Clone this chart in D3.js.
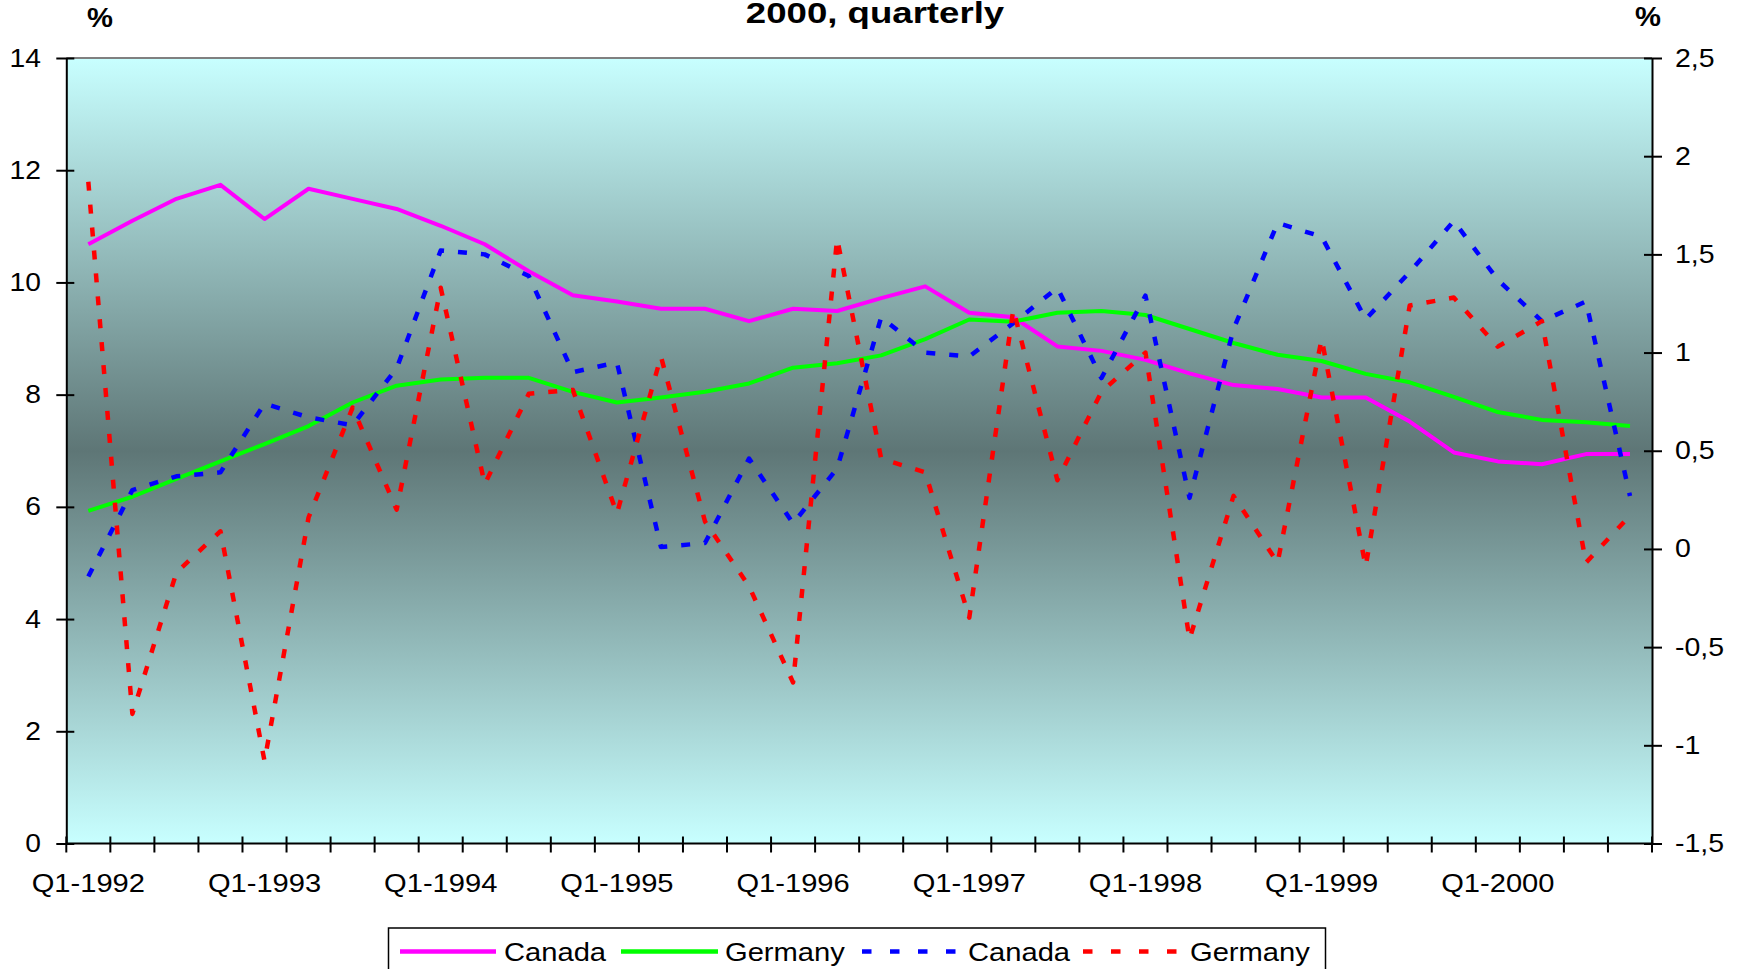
<!DOCTYPE html>
<html lang="en">
<head>
<meta charset="UTF-8">
<title>Canada and Germany, quarterly</title>
<script src="https://d3js.org/d3.v7.min.js"></script>
<style>
    body { margin: 0; background: #ffffff; }
    text { font-family: "Liberation Sans", Arial, sans-serif; fill: #000; }
</style>
</head>
<body>
<svg id="chart" width="1742" height="969"></svg>
<script>
// quarters Q1-1992 .. Q4-2000
const quarters = [
    "Q1-1992","Q2-1992","Q3-1992","Q4-1992","Q1-1993","Q2-1993","Q3-1993","Q4-1993",
    "Q1-1994","Q2-1994","Q3-1994","Q4-1994","Q1-1995","Q2-1995","Q3-1995","Q4-1995",
    "Q1-1996","Q2-1996","Q3-1996","Q4-1996","Q1-1997","Q2-1997","Q3-1997","Q4-1997",
    "Q1-1998","Q2-1998","Q3-1998","Q4-1998","Q1-1999","Q2-1999","Q3-1999","Q4-1999",
    "Q1-2000","Q2-2000","Q3-2000","Q4-2000"
];
const xLabels = ["Q1-1992","Q1-1993","Q1-1994","Q1-1995","Q1-1996","Q1-1997","Q1-1998","Q1-1999","Q1-2000"];

// left axis (%), solid lines
const canadaLeft = [10.68, 11.1, 11.49, 11.74, 11.13, 11.67, 11.49, 11.31, 11.01, 10.68, 10.2, 9.77,
    9.66, 9.53, 9.53, 9.31, 9.53, 9.49, 9.72, 9.93, 9.46, 9.38, 8.86, 8.78,
    8.62, 8.38, 8.17, 8.10, 7.95, 7.95, 7.52, 6.97, 6.81, 6.76, 6.94, 6.94];
const germanyLeft = [5.93, 6.18, 6.50, 6.81, 7.12, 7.44, 7.86, 8.16, 8.27, 8.30, 8.30, 8.05,
    7.86, 7.95, 8.05, 8.20, 8.48, 8.56, 8.70, 8.99, 9.34, 9.30, 9.46, 9.49,
    9.42, 9.17, 8.92, 8.71, 8.60, 8.37, 8.22, 7.96, 7.69, 7.55, 7.51, 7.44];

// right axis (%), dashed lines
const canadaRight = [-0.14, 0.30, 0.37, 0.39, 0.74, 0.67, 0.63, 0.92, 1.52, 1.50, 1.39, 0.90,
    0.95, 0.01, 0.03, 0.46, 0.13, 0.41, 1.18, 1.00, 0.98, 1.15, 1.33, 0.87,
    1.29, 0.26, 1.12, 1.66, 1.59, 1.17, 1.41, 1.67, 1.37, 1.16, 1.26, 0.27];
const germanyRight = [1.87, -0.84, -0.12, 0.09, -1.08, 0.16, 0.72, 0.20, 1.33, 0.33, 0.79, 0.81,
    0.18, 0.98, 0.14, -0.19, -0.68, 1.58, 0.46, 0.39, -0.35, 1.22, 0.35, 0.80,
    1.00, -0.46, 0.27, -0.07, 1.07, -0.09, 1.24, 1.28, 1.03, 1.16, -0.07, 0.17];

const leftTicks = [0, 2, 4, 6, 8, 10, 12, 14];
const rightTicks = [-1.5, -1, -0.5, 0, 0.5, 1, 1.5, 2, 2.5];

const series = [
    { name: "Canada",  values: canadaLeft,   axis: "left",  color: "#ff00ff", dash: null },
    { name: "Germany", values: germanyLeft,  axis: "left",  color: "#00ff00", dash: null },
    { name: "Canada",  values: canadaRight,  axis: "right", color: "#0000ff", dash: "9,14" },
    { name: "Germany", values: germanyRight, axis: "right", color: "#ff0000", dash: "9,14" }
];

const plotLeft = 66.3, plotRight = 1652, plotTop = 58, plotBottom = 843.5;
const svg = d3.select("#chart");

const x = d3.scaleBand().domain(quarters).range([plotLeft, plotRight]).padding(0);
const yL = d3.scaleLinear().domain([0, 14]).range([plotBottom, plotTop]);
const yR = d3.scaleLinear().domain([-1.5, 2.5]).range([plotBottom, plotTop]);
const cx = d => x(d) + x.bandwidth() / 2;

// background gradient of the plot area
const grad = svg.append("defs").append("linearGradient")
    .attr("id", "bg").attr("x1", 0).attr("y1", 0).attr("x2", 0).attr("y2", 1);
grad.append("stop").attr("offset", "0%").attr("stop-color", "#c8ffff");
grad.append("stop").attr("offset", "50%").attr("stop-color", "#5e7676");
grad.append("stop").attr("offset", "100%").attr("stop-color", "#c8ffff");

svg.append("rect")
    .attr("x", plotLeft).attr("y", plotTop)
    .attr("width", plotRight - plotLeft).attr("height", plotBottom - plotTop)
    .attr("fill", "url(#bg)");

svg.append("line")
    .attr("x1", plotLeft).attr("x2", plotRight).attr("y1", plotTop).attr("y2", plotTop)
    .attr("stroke", "#808080").attr("stroke-width", 2);

// left axis
const axL = svg.append("g").attr("transform", `translate(${plotLeft},0)`)
    .call(d3.axisLeft(yL).tickValues(leftTicks).tickSize(10).tickSizeOuter(0).tickPadding(12.4));
axL.select(".domain").attr("stroke", "#000").attr("stroke-width", 2);
axL.selectAll(".tick line").attr("x1", 8).attr("stroke", "#000").attr("stroke-width", 2);
axL.selectAll(".tick text").attr("font-size", 25).attr("font-family", null)
    .attr("transform", "scale(1.13,1)");

// right axis
const axR = svg.append("g").attr("transform", `translate(${plotRight},0)`)
    .call(d3.axisRight(yR).tickValues(rightTicks).tickSize(10).tickSizeOuter(0).tickPadding(10.2)
        .tickFormat(d => String(d).replace(".", ",")));
axR.select(".domain").attr("stroke", "#000").attr("stroke-width", 2);
axR.selectAll(".tick line").attr("x1", -8).attr("stroke", "#000").attr("stroke-width", 2);
axR.selectAll(".tick text").attr("font-size", 25).attr("font-family", null)
    .attr("transform", "scale(1.14,1)");

// bottom axis: ticks on category boundaries, labels on Q1
svg.append("line")
    .attr("x1", plotLeft).attr("x2", plotRight).attr("y1", plotBottom).attr("y2", plotBottom)
    .attr("stroke", "#000").attr("stroke-width", 2);
const bounds = quarters.map(q => x(q)).concat([plotRight]);
svg.append("g").selectAll("line").data(bounds).enter().append("line")
    .attr("x1", d => d).attr("x2", d => d)
    .attr("y1", plotBottom - 7).attr("y2", plotBottom + 9)
    .attr("stroke", "#000").attr("stroke-width", 2);
svg.append("g").selectAll("text").data(xLabels).enter().append("text")
    .attr("transform", d => `translate(${cx(d)},892) scale(1.12,1)`)
    .attr("text-anchor", "middle").attr("font-size", 26)
    .text(d => d);

// lines
const lineGen = s => d3.line()
    .x((v, i) => cx(quarters[i]))
    .y(v => (s.axis === "left" ? yL : yR)(v));

series.forEach(s => {
    svg.append("path")
        .datum(s.values)
        .attr("d", lineGen(s))
        .attr("fill", "none")
        .attr("stroke", s.color)
        .attr("stroke-width", s.dash ? 4.5 : 4)
        .attr("stroke-linejoin", "round")
        .attr("stroke-dasharray", s.dash);
});

// axis units and title
svg.append("text").attr("transform", "translate(100,27) scale(1.08,1)")
    .attr("text-anchor", "middle").attr("font-size", 27).attr("font-weight", "bold").text("%");
svg.append("text").attr("transform", "translate(1648,26) scale(1.08,1)")
    .attr("text-anchor", "middle").attr("font-size", 27).attr("font-weight", "bold").text("%");
svg.append("text").attr("transform", "translate(875,23) scale(1.22,1)")
    .attr("text-anchor", "middle").attr("font-size", 30).attr("font-weight", "bold")
    .text("2000, quarterly");

// legend
const legend = svg.append("g");
legend.append("rect")
    .attr("x", 388.5).attr("y", 928).attr("width", 937).attr("height", 70)
    .attr("fill", "#fff").attr("stroke", "#000").attr("stroke-width", 1.5);
const legendPos = [
    { x0: 400, x1: 496, tx: 504 },
    { x0: 621, x1: 718, tx: 725 },
    { x0: 862, x1: 956, tx: 968 },
    { x0: 1083, x1: 1178, tx: 1190 }
];
series.forEach((s, i) => {
    const p = legendPos[i];
    legend.append("line")
        .attr("x1", p.x0).attr("x2", p.x1).attr("y1", 951.5).attr("y2", 951.5)
        .attr("stroke", s.color).attr("stroke-width", 4.5)
        .attr("stroke-dasharray", s.dash ? "9.5,18.5" : null);
    legend.append("text")
        .attr("transform", `translate(${p.tx},961) scale(1.1,1)`)
        .attr("font-size", 26.5)
        .text(s.name);
});
</script>
</body>
</html>
